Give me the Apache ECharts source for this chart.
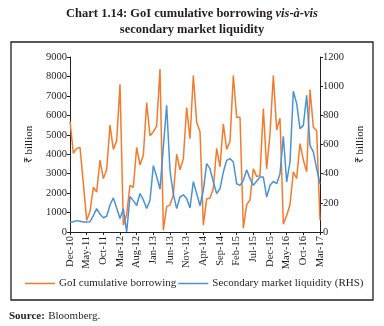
<!DOCTYPE html>
<html>
<head>
<meta charset="utf-8">
<script src="https://cdn.jsdelivr.net/npm/echarts@6/dist/echarts.min.js"></script>
<style>html,body{margin:0;padding:0;background:#fff;}#c{width:384px;height:326px;}</style>
</head>
<body>
<div id="c"></div>
<script>
var monthNames = ['Jan','Feb','Mar','Apr','May','Jun','Jul','Aug','Sep','Oct','Nov','Dec'];
var categories = ['Dec-10'];
for (var y = 11; y <= 17; y++) {
  for (var m = 0; m < 12; m++) {
    if (y === 17 && m > 2) break;
    categories.push(monthNames[m] + '-' + y);
  }
}
// GoI cumulative borrowing (₹ billion, left axis)
var borrowing = [5700,4050,4300,4350,2500,600,1050,2300,2050,3700,2750,3200,5500,4250,4700,7600,
  350,900,2400,2300,4350,3450,3950,6650,4950,5150,5450,8380,100,1300,1400,1900,4000,3200,3750,6400,
  4800,8050,5650,5150,350,1700,1750,2250,4300,3350,5550,4250,4650,8050,5900,5900,200,1400,1650,3250,
  2850,2900,6350,3250,5050,8050,5250,5850,400,850,1400,3100,2750,4550,3700,3100,7330,5400,5200,600];
// Secondary market liquidity (₹ billion, right axis)
var liquidity = [66,70,78,74,68,69,71,112,160,122,98,108,185,234,165,93,
  160,0,243,215,182,264,220,162,216,455,380,294,580,869,420,260,160,240,255,230,
  165,345,265,180,286,469,434,343,263,297,411,491,503,480,331,320,354,427,366,320,
  350,377,377,240,320,347,331,400,656,343,480,965,880,709,731,937,594,549,434,331];
var leftTicks = [0, 9000, 1000];
var rightTicks = [0, 1200, 200];

var FONT = 'Liberation Serif';
var plain = function (v) { return String(v); };
var chart = echarts.init(document.getElementById('c'), null, {renderer: 'canvas'});
chart.setOption({
  animation: false,
  backgroundColor: '#fff',
  title: {
    text: '{b|Chart 1.14: GoI cumulative borrowing }{bi|vis-à-vis}\n{b|secondary market liquidity}',
    left: 'center', top: 1,
    textStyle: {
      rich: {
        b: {fontFamily: FONT, fontWeight: 'bold', fontSize: 12.5, color: '#231f20', lineHeight: 16},
        bi: {fontFamily: FONT, fontWeight: 'bold', fontStyle: 'italic', fontSize: 12.5, color: '#231f20', lineHeight: 16}
      }
    }
  },
  graphic: [
    {type: 'rect', shape: {x: 11, y: 42, width: 362, height: 258}, style: {fill: 'none', stroke: '#231f20', lineWidth: 1.3}, silent: true},
    {type: 'text', left: 9, top: 310, style: {
      text: '{b|Source:} {n|Bloomberg.}',
      rich: {
        b: {fontFamily: FONT, fontWeight: 'bold', fontSize: 11, fill: '#231f20'},
        n: {fontFamily: FONT, fontSize: 11, fill: '#231f20'}
      }
    }}
  ],
  legend: {
    left: 20, top: 273,
    itemWidth: 30, itemHeight: 1.5, itemGap: 2,
    icon: 'rect',
    textStyle: {fontFamily: FONT, fontSize: 11, color: '#231f20', padding: [0, 0, 0, -1]},
    data: ['GoI cumulative borrowing', 'Secondary market liquidity (RHS)']
  },
  grid: {left: 70, right: 64, top: 57, bottom: 94, containLabel: false},
  xAxis: {
    type: 'category', data: categories, boundaryGap: false,
    axisLine: {lineStyle: {color: '#231f20', width: 1}},
    axisTick: {interval: 4, length: 3, lineStyle: {color: '#231f20'}},
    axisLabel: {interval: 4, rotate: 90, fontFamily: FONT, fontSize: 10.5, color: '#231f20', margin: 4}
  },
  yAxis: [
    {
      type: 'value', min: leftTicks[0], max: leftTicks[1], interval: leftTicks[2],
      name: '₹ billion', nameLocation: 'middle', nameGap: 33, nameRotate: 90,
      nameTextStyle: {fontFamily: FONT, fontSize: 11, color: '#231f20'},
      axisLine: {show: true, lineStyle: {color: '#231f20', width: 1}},
      axisTick: {show: true, length: 3, lineStyle: {color: '#231f20'}},
      axisLabel: {fontFamily: FONT, fontSize: 10.5, color: '#231f20', margin: 3, formatter: plain},
      splitLine: {show: false}
    },
    {
      type: 'value', min: rightTicks[0], max: rightTicks[1], interval: rightTicks[2],
      name: '₹ billion', nameLocation: 'middle', nameGap: 32, nameRotate: 90,
      nameTextStyle: {fontFamily: FONT, fontSize: 11, color: '#231f20'},
      axisLine: {show: true, lineStyle: {color: '#231f20', width: 1}},
      axisTick: {show: true, length: 3, lineStyle: {color: '#231f20'}},
      axisLabel: {fontFamily: FONT, fontSize: 10.5, color: '#231f20', margin: 3, formatter: plain},
      splitLine: {show: false}
    }
  ],
  series: [
    {name: 'GoI cumulative borrowing', type: 'line', data: borrowing, yAxisIndex: 0,
     symbol: 'none', lineStyle: {color: '#f37b2d', width: 1.5}, itemStyle: {color: '#f37b2d'}},
    {name: 'Secondary market liquidity (RHS)', type: 'line', data: liquidity, yAxisIndex: 1,
     symbol: 'none', lineStyle: {color: '#4a92d6', width: 1.5}, itemStyle: {color: '#4a92d6'}}
  ]
});
</script>
</body>
</html>
